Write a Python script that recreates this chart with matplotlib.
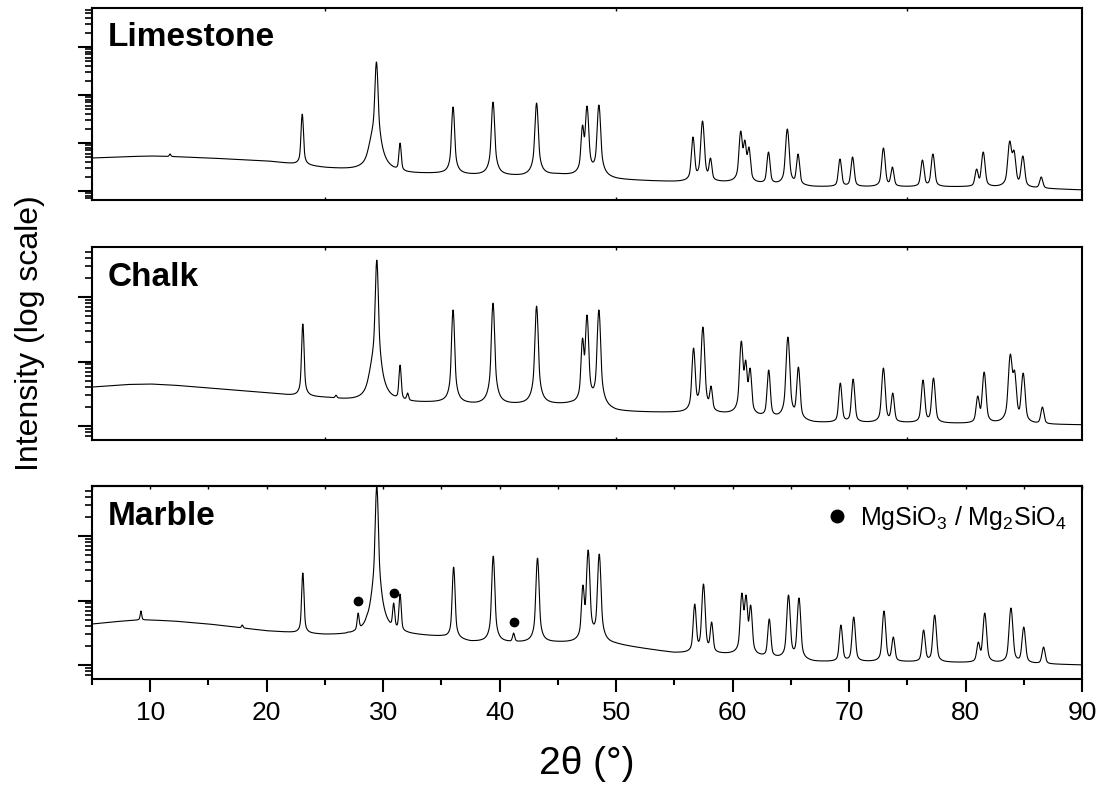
import numpy as np
import matplotlib.pyplot as plt
from matplotlib.lines import Line2D

plt.rcParams['font.family'] = ['Liberation Sans', 'DejaVu Sans']

two_theta = np.arange(5.0, 90.0001, 0.02)

# --- Limestone ---
limestone_bg_pos = [5, 8, 10, 12, 15, 20, 22.5, 25, 28, 32, 35, 38, 42, 45, 50, 55, 60, 67, 75, 80, 85, 90]
limestone_bg_int = [487, 520, 536, 520, 487, 422, 360, 302, 261, 226, 226, 210, 200, 215, 170, 154, 147, 121, 121, 121, 115, 105]
limestone_peak_pos = [11.7, 23.05, 28.4, 29.42, 31.45, 36.0, 39.43, 43.17, 47.12, 47.5, 48.52,
                      56.6, 57.42, 58.1, 60.7, 61.05, 61.4, 63.08, 64.7, 65.62, 69.22, 70.3,
                      72.95, 73.72, 76.3, 77.2, 80.95, 81.52, 83.8, 84.15, 84.92, 86.5]
limestone_peak_int = [590, 4018, 442, 48700, 1000, 5623, 7150, 6810, 2371, 5900, 6190,
                      1334, 2873, 487, 1778, 1155, 826, 649, 1957, 590, 464, 511,
                      787, 316, 442, 590, 287, 649, 1101, 715, 536, 196]
limestone_broad_pos = [29.1]
limestone_broad_int = [550]
limestone_broad_fwhm = [0.6]

# --- Chalk ---
chalk_bg_pos = [5, 8, 10, 12, 15, 20, 22.5, 25, 28, 30, 33, 35, 38, 42, 46, 50, 55, 60, 67, 75, 80, 85, 90]
chalk_bg_int = [402, 440, 448, 430, 388, 325, 292, 272, 236, 230, 227, 227, 211, 211, 211, 165, 159, 148, 111, 111, 108, 106, 104]
chalk_peak_pos = [23.1, 25.95, 28.75, 29.45, 31.45, 32.1, 36.0, 39.43, 43.17, 47.12, 47.5, 48.52,
                  56.65, 57.45, 58.15, 60.75, 61.12, 61.5, 63.1, 64.75, 65.65, 69.25, 70.35,
                  72.95, 73.75, 76.35, 77.25, 81.05, 81.6, 83.85, 84.2, 84.95, 86.6]
chalk_peak_int = [3814, 300, 464, 37500, 883, 325, 6290, 8070, 7250, 2314, 5260, 6290,
                  1619, 3428, 417, 2079, 1055, 793, 738, 2398, 822, 464, 535,
                  793, 325, 517, 555, 292, 687, 1307, 738, 663, 197]
chalk_broad_pos = [29.1]
chalk_broad_int = [280]
chalk_broad_fwhm = [0.6]

# --- Marble ---
marble_bg_pos = [5, 7, 9, 10, 12, 15, 20, 22.5, 25, 28, 32, 35, 37.5, 41, 45, 50, 55, 60, 67, 75, 80, 85, 90]
marble_bg_int = [432, 470, 499, 499, 480, 432, 337, 313, 290, 280, 290, 270, 225, 219, 219, 204, 153, 143, 111, 111, 108, 105, 100]
marble_peak_pos = [9.2, 17.9, 23.1, 27.0, 27.85, 28.6, 29.45, 30.9, 31.45, 36.05, 39.45, 41.2,
                   43.25, 47.15, 47.6, 48.55, 56.75, 57.5, 58.2, 60.8, 61.15, 61.55, 63.15,
                   64.8, 65.7, 69.3, 70.4, 73.0, 73.8, 76.4, 77.35, 81.1, 81.65, 83.9, 85.0, 86.7]
marble_peak_int = [687, 417, 2669, 325, 640, 596, 60000, 915, 1262, 3306, 4898, 313,
                   4560, 1740, 6067, 5260, 883, 1803, 464, 1307, 1217, 851, 517,
                   1217, 1094, 417, 555, 687, 272, 349, 596, 227, 640, 765, 388, 190]
marble_broad_pos = [29.15]
marble_broad_int = [150]
marble_broad_fwhm = [0.45]

# MgSiO3 / Mg2SiO4 reflections marked in marble
silicate_pos = [27.85, 30.9, 41.2]
silicate_mark = [981, 1306, 464]

samples = [
    ('Limestone', limestone_bg_pos, limestone_bg_int, limestone_peak_pos, limestone_peak_int,
     limestone_broad_pos, limestone_broad_int, limestone_broad_fwhm),
    ('Chalk', chalk_bg_pos, chalk_bg_int, chalk_peak_pos, chalk_peak_int,
     chalk_broad_pos, chalk_broad_int, chalk_broad_fwhm),
    ('Marble', marble_bg_pos, marble_bg_int, marble_peak_pos, marble_peak_int,
     marble_broad_pos, marble_broad_int, marble_broad_fwhm),
]


def pseudo_voigt(x, center, fwhm, eta=0.4):
    d2 = (np.asarray(x) - center) ** 2 / fwhm ** 2
    gauss = np.exp(-4 * np.log(2) * d2)
    lorentz = 1.0 / (1.0 + 4 * d2)
    return eta * lorentz + (1 - eta) * gauss


def peak_width(pos):
    return 0.13 + 0.0018 * pos


def pattern(bg_pos, bg_int, pk_pos, pk_int, br_pos, br_int, br_fwhm):
    pk_pos = np.asarray(pk_pos, dtype=float)
    pk_int = np.asarray(pk_int, dtype=float)

    def base(x):
        b = np.exp(np.interp(x, bg_pos, np.log(bg_int)))
        for c, h, w in zip(br_pos, br_int, br_fwhm):
            b = b + h * pseudo_voigt(x, c, w, eta=0.3)
        return b

    # amplitudes chosen so the summed pattern hits each peak top
    widths = peak_width(pk_pos)
    overlap = np.array([[pseudo_voigt(ci, cj, wj) for cj, wj in zip(pk_pos, widths)]
                        for ci in pk_pos])
    amps = np.linalg.solve(overlap, pk_int - base(pk_pos))
    amps = np.clip(amps, 0, None)

    y = base(two_theta)
    for c, a, w in zip(pk_pos, amps, widths):
        y = y + a * pseudo_voigt(two_theta, c, w)
    return y


# panel boxes (left, bottom, width, height) and y limits
boxes = [
    [0.0832, 0.7481, 0.8951, 0.2418],
    [0.0832, 0.4458, 0.8951, 0.2431],
    [0.0832, 0.1448, 0.8951, 0.2431],
]
ylims = [
    (10 ** 1.8125, 10 ** 5.8125),
    (10 ** 1.783, 10 ** 4.775),
    (10 ** 1.783, 10 ** 4.775),
]

fig = plt.figure(figsize=(11.06, 7.94), dpi=100)

axes = []
for i, (name, bgp, bgi, pp, pi, bp, bi, bw) in enumerate(samples):
    ax = fig.add_axes(boxes[i])
    axes.append(ax)
    ax.plot(two_theta, pattern(bgp, bgi, pp, pi, bp, bi, bw), color='black', linewidth=0.8)
    ax.set_yscale('log')
    ax.set_xlim(5, 90)
    ax.set_ylim(*ylims[i])
    ax.tick_params(axis='y', which='major', direction='out', length=10, width=1.5, labelleft=False)
    ax.tick_params(axis='y', which='minor', direction='out', length=5, width=1.2, labelleft=False)
    for sp in ax.spines.values():
        sp.set_linewidth(1.5)
    ax.text(0.016, 0.80, name, transform=ax.transAxes, fontsize=24, fontweight='bold',
            va='baseline', ha='left')

    if i < 2:
        ax.set_xticks([25, 50, 75])
        ax.tick_params(axis='x', which='major', direction='in', length=2.5, width=1.0,
                       top=True, bottom=True, labelbottom=False)
    else:
        ax.set_xticks(np.arange(10, 91, 10))
        ax.set_xticks(np.arange(5, 91, 10), minor=True)
        ax.tick_params(axis='x', which='major', direction='out', length=9, width=1.5,
                       labelsize=19, pad=7)
        ax.tick_params(axis='x', which='minor', direction='out', length=4.5, width=1.5)
        top = ax.secondary_xaxis('top')
        top.set_xticks(np.arange(5, 91, 5))
        top.tick_params(direction='in', length=2.5, width=1.0, labeltop=False)
        top.spines['top'].set_linewidth(1.5)
        ax.set_xlabel('2θ (°)', fontsize=28, labelpad=15)

# silicate markers on marble
mk = axes[2]
mk.plot(silicate_pos, silicate_mark, linestyle='none', marker='o', color='black', markersize=6)
handle = Line2D([], [], linestyle='none', marker='o', color='black', markersize=9)
mk.legend([handle], [r'$\mathregular{MgSiO_3}$ / $\mathregular{Mg_2SiO_4}$'], loc='upper right',
          bbox_to_anchor=(1.007, 1.025), frameon=False, fontsize=18, handletextpad=0.3,
          handlelength=1.2)

fig.text(0.027, 0.58, 'Intensity (log scale)', rotation=90, fontsize=23, va='center', ha='center')

fig.savefig('out.png', dpi=100)
